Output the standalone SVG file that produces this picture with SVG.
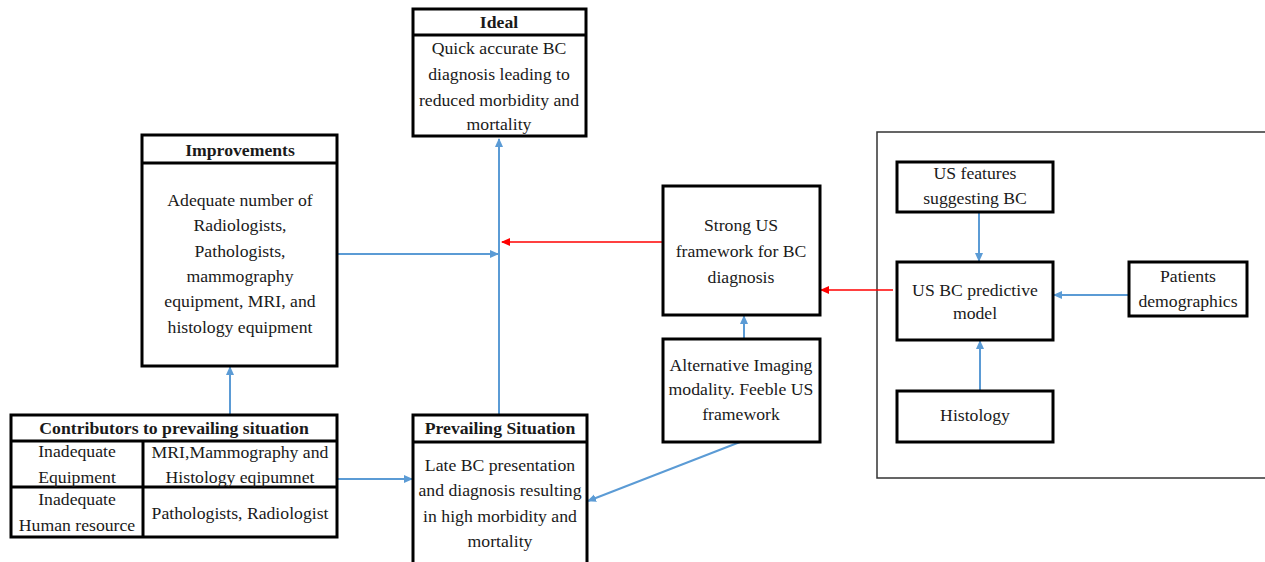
<svg xmlns="http://www.w3.org/2000/svg" width="1265" height="562" viewBox="0 0 1265 562">
<style>
.box{fill:#fff;stroke:#000;stroke-width:3}
.cont{fill:#fff;stroke:#333;stroke-width:1.5}
.t{font-family:"Liberation Serif","Times New Roman",serif;font-size:17.7px;fill:#1a1a1a;text-anchor:middle}
.h{font-weight:bold}
.bl{stroke:#5b9bd5;stroke-width:2;fill:none}
.rd{stroke:#ff0000;stroke-width:1.6;fill:none}
</style>
<defs>
<marker id="ab" markerWidth="10" markerHeight="10" refX="8" refY="4" orient="auto" markerUnits="userSpaceOnUse"><path d="M0,0 L9,4 L0,8 Z" fill="#5b9bd5"/></marker>
<marker id="ar" markerWidth="10" markerHeight="10" refX="8" refY="4" orient="auto" markerUnits="userSpaceOnUse"><path d="M0,0 L9,4 L0,8 Z" fill="#ff0000"/></marker>
</defs>
<rect class="cont" x="877" y="132" width="400" height="346"/>
<g id="connectors">
<line class="bl" x1="499" y1="415" x2="499" y2="139" marker-end="url(#ab)"/>
<line class="bl" x1="337" y1="254" x2="498" y2="254" marker-end="url(#ab)"/>
<line class="rd" x1="663" y1="242" x2="502" y2="242" marker-end="url(#ar)"/>
<line class="bl" x1="230" y1="415" x2="230" y2="367" marker-end="url(#ab)"/>
<line class="bl" x1="337" y1="479" x2="412" y2="479" marker-end="url(#ab)"/>
<line class="bl" x1="740" y1="442" x2="588" y2="501" marker-end="url(#ab)"/>
<line class="bl" x1="744" y1="339" x2="744" y2="316" marker-end="url(#ab)"/>
<line class="rd" x1="893" y1="290" x2="821" y2="290" marker-end="url(#ar)"/>
<line class="bl" x1="979" y1="212" x2="979" y2="261" marker-end="url(#ab)"/>
<line class="bl" x1="980" y1="391" x2="980" y2="341" marker-end="url(#ab)"/>
<line class="bl" x1="1129" y1="295" x2="1054" y2="295" marker-end="url(#ab)"/>
</g>
<g id="ideal">
<rect class="box" x="413" y="9" width="173" height="127"/>
<line x1="413" y1="35" x2="586" y2="35" stroke="#000" stroke-width="3"/>
<text class="t h" x="499" y="28">Ideal</text>
<text class="t" x="499" y="54">Quick accurate BC</text>
<text class="t" x="499" y="80">diagnosis leading to</text>
<text class="t" x="499" y="106">reduced morbidity and</text>
<text class="t" x="499" y="130">mortality</text>
</g>
<g id="improvements">
<rect class="box" x="142" y="135" width="195" height="231"/>
<line x1="142" y1="163" x2="337" y2="163" stroke="#000" stroke-width="3"/>
<text class="t h" x="240" y="156">Improvements</text>
<text class="t" x="240" y="206">Adequate number of</text>
<text class="t" x="240" y="231">Radiologists,</text>
<text class="t" x="240" y="257">Pathologists,</text>
<text class="t" x="240" y="282">mammography</text>
<text class="t" x="240" y="307">equipment, MRI, and</text>
<text class="t" x="240" y="333">histology equipment</text>
</g>
<g id="contributors">
<rect class="box" x="11" y="415" width="326" height="122"/>
<line x1="11" y1="441" x2="337" y2="441" stroke="#000" stroke-width="3"/>
<line x1="11" y1="487" x2="337" y2="487" stroke="#000" stroke-width="3"/>
<line x1="143" y1="441" x2="143" y2="537" stroke="#000" stroke-width="3"/>
<text class="t h" x="174" y="434">Contributors to prevailing situation</text>
<text class="t" x="77" y="457">Inadequate</text>
<text class="t" x="77" y="483">Equipment</text>
<text class="t" x="240" y="458">MRI,Mammography and</text>
<text class="t" x="240" y="483">Histology eqipumnet</text>
<text class="t" x="77" y="505">Inadequate</text>
<text class="t" x="77" y="531">Human resource</text>
<text class="t" x="240" y="519">Pathologists, Radiologist</text>
</g>
<g id="prevailing">
<rect class="box" x="413" y="415" width="174" height="160"/>
<line x1="413" y1="442" x2="587" y2="442" stroke="#000" stroke-width="3"/>
<text class="t h" x="500" y="434">Prevailing Situation</text>
<text class="t" x="500" y="471">Late BC presentation</text>
<text class="t" x="500" y="496">and diagnosis resulting</text>
<text class="t" x="500" y="522">in high morbidity and</text>
<text class="t" x="500" y="547">mortality</text>
</g>
<g id="strong">
<rect class="box" x="663" y="186" width="157" height="129"/>
<text class="t" x="741" y="231">Strong US</text>
<text class="t" x="741" y="257">framework for BC</text>
<text class="t" x="741" y="283">diagnosis</text>
</g>
<g id="alternative">
<rect class="box" x="663" y="339" width="157" height="103"/>
<text class="t" x="741" y="371">Alternative Imaging</text>
<text class="t" x="741" y="395">modality. Feeble US</text>
<text class="t" x="741" y="420">framework</text>
</g>
<g id="usfeatures">
<rect class="box" x="897" y="162" width="156" height="50"/>
<text class="t" x="975" y="179">US features</text>
<text class="t" x="975" y="204">suggesting BC</text>
</g>
<g id="model">
<rect class="box" x="897" y="262" width="156" height="78"/>
<text class="t" x="975" y="296">US BC predictive</text>
<text class="t" x="975" y="319">model</text>
</g>
<g id="histology">
<rect class="box" x="897" y="391" width="156" height="51"/>
<text class="t" x="975" y="421">Histology</text>
</g>
<g id="patients">
<rect class="box" x="1129" y="262" width="118" height="54"/>
<text class="t" x="1188" y="282">Patients</text>
<text class="t" x="1188" y="307">demographics</text>
</g>
</svg>
